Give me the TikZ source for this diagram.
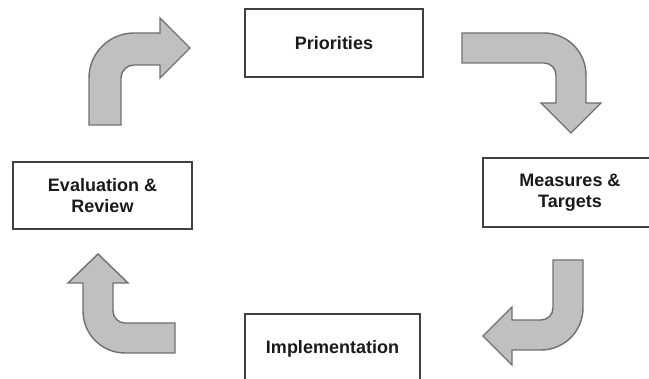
\documentclass[tikz,border=0pt]{standalone}
\usepackage{fontspec}
\setmainfont{Liberation Sans}
\definecolor{boxline}{RGB}{64,64,64}
\definecolor{txt}{RGB}{26,26,26}
\definecolor{arrfill}{RGB}{192,192,192}
\definecolor{arrline}{RGB}{112,112,112}
\begin{document}
\begin{tikzpicture}[x=1pt,y=-1pt,
  stagebox/.style={draw=boxline,line width=2pt,fill=white,text=txt,align=center,
    font=\fontsize{18}{21}\selectfont\bfseries,inner sep=0pt},
  bentarrow/.style={draw=arrline,line width=1.4pt,fill=arrfill,line join=miter}]
\useasboundingbox (0,0) rectangle (649,379);
\clip (0,0) rectangle (649,379);
\fill[white] (0,0) rectangle (649,379);
% boxes
\node[stagebox,minimum width=178pt,minimum height=68pt] (prio) at (334,43) {Priorities};
\node[stagebox,minimum width=174pt,minimum height=69pt] (meas) at (570,192.5) {Measures \&\\Targets};
\node[stagebox,minimum width=175pt,minimum height=70pt] (impl) at (332.5,349) {Implementation};
\node[stagebox,minimum width=179pt,minimum height=67pt] (eval) at (102.5,195.5) {Evaluation \&\\Review};
% top-left arrow
\draw[bentarrow] (89,125) -- (89,78) arc[start angle=180,end angle=270,radius=45]
  -- (160,33) -- (160,18) -- (190,48) -- (160,78) -- (160,65) -- (134,65)
  arc[start angle=270,end angle=180,radius=13] -- (121,125) -- cycle;
% top-right arrow
\draw[bentarrow] (462,33) -- (544,33) arc[start angle=270,end angle=360,radius=42]
  -- (586,103) -- (601,103) -- (571,133) -- (541,103) -- (556,103) -- (556,75)
  arc[start angle=0,end angle=-90,radius=12] -- (462,63) -- cycle;
% bottom-right arrow
\draw[bentarrow] (583,260) -- (583,308) arc[start angle=0,end angle=90,radius=42]
  -- (512,350) -- (512,365) -- (483,336) -- (512,307) -- (512,320) -- (541,320)
  arc[start angle=90,end angle=0,radius=12] -- (553,260) -- cycle;
% bottom-left arrow
\draw[bentarrow] (175,353) -- (125,353) arc[start angle=90,end angle=180,radius=42]
  -- (83,283) -- (68,283) -- (98,254) -- (128,283) -- (113,283) -- (113,311)
  arc[start angle=180,end angle=90,radius=12] -- (175,323) -- cycle;
\end{tikzpicture}
\end{document}
